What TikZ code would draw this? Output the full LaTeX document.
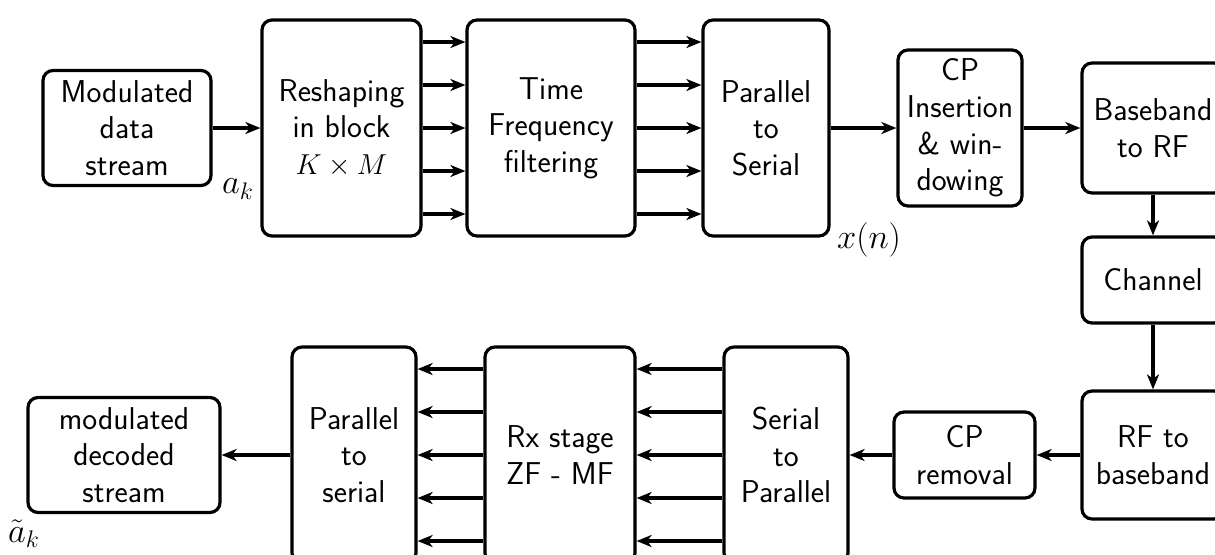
\documentclass[tikz,border=0pt]{standalone}
\usetikzlibrary{arrows.meta}
\begin{document}
\begin{tikzpicture}[x=0.5pt,y=-0.5pt,
  blk/.style={draw, line width=1.6pt, rounded corners=5pt, align=center,
    font=\sffamily\fontsize{15.8}{18.3}\selectfont, inner sep=0pt},
  arr/.style={line width=1.6pt, -{Stealth[length=7.5pt,width=6pt,inset=2.2pt]}},
  lbl/.style={font=\fontsize{17.3}{20}\selectfont, inner sep=0pt}]
\useasboundingbox (0,0) rectangle (1215,554);
\clip (0,0) rectangle (1215,554);
% upper row
\node[blk, minimum width=84pt, minimum height=57.5pt] (mod) at (127,128) {Modulated\\data\\stream};
\node[blk, minimum width=79.5pt, minimum height=108pt] (resh) at (341.5,128) {Reshaping\\in block\\$K\times M$};
\node[blk, minimum width=84pt, minimum height=108pt] (tf) at (551,128) {Time\\Frequency\\filtering};
\node[blk, minimum width=63pt, minimum height=108pt] (ps) at (766,128) {Parallel\\to\\Serial};
\node[blk, minimum width=62pt, minimum height=78pt] (cpi) at (960,128) {CP\\Insertion\\\& win-\\dowing};
\node[blk, minimum width=71pt, minimum height=65pt] (bb) at (1153,128) {Baseband\\to RF};
\node[blk, minimum width=71pt, minimum height=43pt] (ch) at (1153,280) {Channel};
\node[blk, minimum width=71pt, minimum height=64pt] (rf) at (1153,455) {RF to\\baseband};
% lower row
\node[blk, minimum width=70.5pt, minimum height=43pt] (cpr) at (964.5,455) {CP\\removal};
\node[blk, minimum width=62pt, minimum height=108pt] (sp) at (786,455) {Serial\\to\\Parallel};
\node[blk, minimum width=75pt, minimum height=108pt] (rx) at (560,455) {Rx stage\\ZF - MF};
\node[blk, minimum width=62pt, minimum height=108pt] (ps2) at (354,455) {Parallel\\to\\serial};
\node[blk, minimum width=96pt, minimum height=57.5pt] (dec) at (124,455) {modulated\\decoded\\stream};
% labels
\node[lbl] (ak) at (238,189) {$a_k$};
\node[lbl] (xn) at (869,240) {$x(n)$};
\node[lbl] (akt) at (24,534) {$\tilde{a}_k$};
% connectors
\draw[arr] (mod.east) -- (mod.east -| resh.west);
\foreach \d in {-2,...,2}{
  \draw[arr] ([yshift=\d*21.5pt]resh.east) -- ([yshift=\d*21.5pt]tf.west);
  \draw[arr] ([yshift=\d*21.5pt]tf.east) -- ([yshift=\d*21.5pt]ps.west);
  \draw[arr] ([yshift=\d*21.5pt]sp.west) -- ([yshift=\d*21.5pt]rx.east);
  \draw[arr] ([yshift=\d*21.5pt]rx.west) -- ([yshift=\d*21.5pt]ps2.east);
}
\draw[arr] (ps.east) -- (cpi.west);
\draw[arr] (cpi.east) -- (bb.west);
\draw[arr] (bb.south) -- (ch.north);
\draw[arr] (ch.south) -- (rf.north);
\draw[arr] (rf.west) -- (cpr.east);
\draw[arr] (cpr.west) -- (sp.east |- cpr.west);
\draw[arr] (ps2.west) -- (dec.east |- ps2.west);
\end{tikzpicture}
\end{document}
